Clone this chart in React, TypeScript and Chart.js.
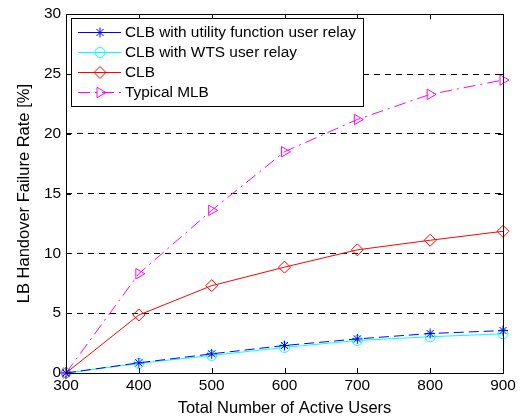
import React, { useEffect, useRef } from "react";
import { Chart, registerables } from "chart.js";
import { drawPoint } from "chart.js/helpers";

Chart.register(...registerables);

const users = [300, 400, 500, 600, 700, 800, 900];
const clbUtility = [0, 0.85, 1.6, 2.3, 2.85, 3.3, 3.55];
const clbWts = [0, 0.8, 1.47, 2.14, 2.72, 3.03, 3.28];
const clb = [0, 4.85, 7.3, 8.85, 10.3, 11.1, 11.85];
const typicalMlb = [0, 8.3, 13.6, 18.5, 21.2, 23.3, 24.5];
const seriesNames = [
  "CLB with utility function user relay",
  "CLB with WTS user relay",
  "CLB",
  "Typical MLB",
];
const xTicks = [300, 400, 500, 600, 700, 800, 900];
const yTicks = [0, 5, 10, 15, 20, 25, 30];

const FONT = "'Liberation Sans', Arial, sans-serif";

const matlabPlugin = {
  id: "matlabBox",
  afterDraw(chart: any) {
    const { ctx, chartArea: a, scales } = chart;
    ctx.save();
    ctx.strokeStyle = "#000";
    ctx.lineWidth = 1;
    ctx.setLineDash([]);
    ctx.strokeRect(Math.round(a.left) + 0.5, Math.round(a.top) + 0.5, Math.round(a.right - a.left), Math.round(a.bottom - a.top));
    const tl = 5;
    ctx.beginPath();
    xTicks.forEach((v) => {
      const x = Math.round(scales.x.getPixelForValue(v)) + 0.5;
      ctx.moveTo(x, a.bottom);
      ctx.lineTo(x, a.bottom - tl);
      ctx.moveTo(x, a.top);
      ctx.lineTo(x, a.top + tl);
    });
    yTicks.forEach((v) => {
      const y = Math.round(scales.y.getPixelForValue(v)) + 0.5;
      ctx.moveTo(a.left, y);
      ctx.lineTo(a.left + tl, y);
      ctx.moveTo(a.right, y);
      ctx.lineTo(a.right - tl, y);
    });
    ctx.stroke();

    // legend
    const bx = 71.5, by = 18.5, bw = 292, bh = 88;
    ctx.fillStyle = "#fff";
    ctx.fillRect(bx, by, bw, bh);
    ctx.strokeStyle = "#000";
    ctx.strokeRect(bx, by, bw, bh);
    ctx.font = "15.4px " + FONT;
    ctx.textBaseline = "middle";
    chart.data.datasets.forEach((ds: any, i: number) => {
      const y = 32 + i * 20;
      ctx.strokeStyle = ds.borderColor;
      ctx.lineWidth = 1;
      ctx.setLineDash(i === 3 ? [12, 5, 2, 5] : []);
      ctx.beginPath();
      ctx.moveTo(78, y + 0.5);
      ctx.lineTo(121, y + 0.5);
      ctx.stroke();
      ctx.setLineDash([]);
      ctx.fillStyle = "rgba(0,0,0,0)";
      drawPoint(ctx, {
        pointStyle: ds.pointStyle,
        radius: ds.pointRadius,
        rotation: ds.pointRotation || 0,
        borderWidth: 1,
      } as any, 100, y + 0.5);
      ctx.fillStyle = "#000";
      ctx.textAlign = "left";
      ctx.fillText(seriesNames[i], 125, y + 1);
    });
    ctx.restore();
  },
};

export default function App() {
  const ref = useRef<HTMLCanvasElement | null>(null);
  useEffect(() => {
    document.body.style.margin = "0";
    const mk = (vals: number[]) => users.map((u, i) => ({ x: u, y: vals[i] }));
    const chart = new Chart(ref.current as HTMLCanvasElement, {
      type: "line",
      plugins: [matlabPlugin],
      data: {
        datasets: [
          {
            label: seriesNames[0],
            data: mk(clbUtility),
            borderColor: "#0000ff",
            borderWidth: 1,
            borderDash: [10, 5],
            pointStyle: "star",
            pointRadius: 5,
            pointBorderColor: "#0000ff",
            pointBackgroundColor: "rgba(0,0,0,0)",
            pointBorderWidth: 1,
            tension: 0,
            clip: false as any,
          },
          {
            label: seriesNames[1],
            data: mk(clbWts),
            borderColor: "#00ffff",
            borderWidth: 1,
            pointStyle: "circle",
            pointRadius: 5,
            pointBorderColor: "#00ffff",
            pointBackgroundColor: "rgba(0,0,0,0)",
            pointBorderWidth: 1,
            tension: 0,
            clip: false as any,
          },
          {
            label: seriesNames[2],
            data: mk(clb),
            borderColor: "#ff0000",
            borderWidth: 1,
            pointStyle: "rectRot",
            pointRadius: 6,
            pointBorderColor: "#ff0000",
            pointBackgroundColor: "rgba(0,0,0,0)",
            pointBorderWidth: 1,
            tension: 0,
            clip: false as any,
          },
          {
            label: seriesNames[3],
            data: mk(typicalMlb),
            borderColor: "#ff00ff",
            borderWidth: 1,
            borderDash: [12, 5, 2, 5],
            pointStyle: "triangle",
            pointRotation: 90,
            pointRadius: 6,
            pointBorderColor: "#ff00ff",
            pointBackgroundColor: "rgba(0,0,0,0)",
            pointBorderWidth: 1,
            tension: 0,
            clip: false as any,
          },
        ],
      },
      options: {
        animation: false,
        responsive: false,
        layout: { padding: { left: 0, top: 12, right: 27, bottom: 0 } },
        plugins: { legend: { display: false }, tooltip: { enabled: false } },
        scales: {
          x: {
            type: "linear",
            min: 300,
            max: 900,
            afterFit: (s: any) => { s.height = 45; },
            afterBuildTicks: (s: any) => { s.ticks = xTicks.map((v) => ({ value: v })); },
            ticks: { color: "#000", font: { size: 15.4, family: FONT }, padding: 4 },
            grid: { display: false, tickLength: 0 },
            border: { display: false },
            title: { display: true, text: "Total Number of Active Users", color: "#000", font: { size: 16.5, family: FONT }, padding: { top: 0, bottom: 0 } },
          },
          y: {
            type: "linear",
            min: 0,
            max: 30,
            afterFit: (s: any) => { s.width = 66; },
            afterBuildTicks: (s: any) => { s.ticks = yTicks.map((v) => ({ value: v })); },
            ticks: { color: "#000", font: { size: 15.4, family: FONT }, padding: 5 },
            grid: {
              tickLength: 0,
              color: (c: any) => (c.tick && (c.tick.value === 0 || c.tick.value === 30) ? "rgba(0,0,0,0)" : "#000"),
              lineWidth: 1,
            },
            border: { display: false, dash: [6, 5] },
            title: { display: true, text: "LB Handover Failure Rate [%]", color: "#000", font: { size: 16.5, family: FONT }, padding: { top: 15, bottom: 0 } },
          },
        },
      },
    });
    return () => chart.destroy();
  }, []);
  return <canvas ref={ref} width={530} height={418} style={{ display: "block" }} />;
}
